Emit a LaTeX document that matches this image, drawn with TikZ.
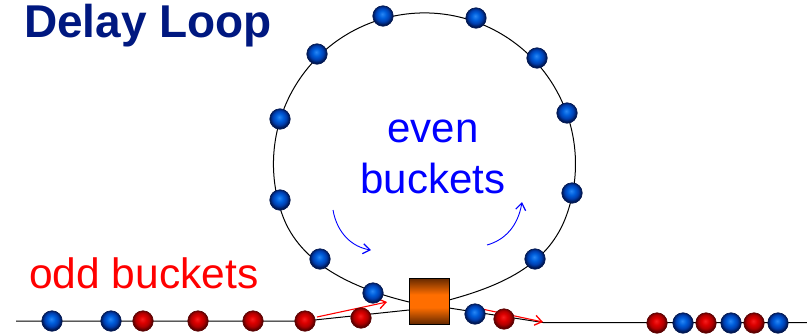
\documentclass[tikz,border=0pt]{standalone}
\usepackage{fontspec}
\setmainfont{Liberation Sans}
\usetikzlibrary{arrows.meta}
\definecolor{navy}{RGB}{0,24,128}
\definecolor{txtblue}{RGB}{0,0,255}
\definecolor{txtred}{RGB}{255,0,0}
\definecolor{bh}{RGB}{40,135,245}
\definecolor{bm}{RGB}{0,95,220}
\definecolor{bd}{RGB}{0,62,175}
\definecolor{brim}{RGB}{0,22,80}
\definecolor{rh}{RGB}{245,30,30}
\definecolor{rm}{RGB}{220,0,0}
\definecolor{rd}{RGB}{175,0,0}
\definecolor{rrim}{RGB}{90,0,0}
\definecolor{boxdark}{RGB}{100,40,0}
\definecolor{boxmid}{RGB}{255,110,0}
\pgfdeclareradialshading{blueball}{\pgfqpoint{-2bp}{5bp}}{%
  color(0bp)=(bh); color(9bp)=(bm); color(17bp)=(bd); color(24bp)=(brim); color(50bp)=(brim)}
\pgfdeclareradialshading{redball}{\pgfqpoint{-2bp}{5bp}}{%
  color(0bp)=(rh); color(9bp)=(rm); color(17bp)=(rd); color(24bp)=(rrim); color(50bp)=(rrim)}
\pgfdeclareverticalshading{boxshade}{100bp}{%
  color(0bp)=(boxdark); color(25bp)=(boxdark); color(43bp)=(boxmid); color(57bp)=(boxmid); color(75bp)=(boxdark); color(100bp)=(boxdark)}
\tikzset{
  bball/.style={circle, minimum size=20.5pt, inner sep=0pt, shading=blueball, draw=brim, line width=0.6pt},
  rball/.style={circle, minimum size=20.5pt, inner sep=0pt, shading=redball, draw=rrim, line width=0.6pt},
  track/.style={draw=black, line width=1pt},
  redarrow/.style={draw=txtred, line width=1.1pt, -{Straight Barb[length=7pt,width=10pt,line width=1.3pt]}},
  bluearrow/.style={draw=txtblue, line width=0.9pt, -{Straight Barb[length=7pt,width=10pt,line width=1.2pt]}},
  label/.style={inner sep=0pt, anchor=base, font=\fontsize{42}{51}\selectfont}
}
\begin{document}
\begin{tikzpicture}[x=1pt,y=-1pt]
\useasboundingbox (0,0) rectangle (807,335);
% title and labels
\node[label, anchor=base west, text=navy, font=\fontsize{46}{50}\selectfont\bfseries] (title) at (24,37) {Delay Loop};
\node[label, text=txtblue] (even) at (433,142) {even};
\node[label, text=txtblue] (buck) at (433,193) {buckets};
\node[label, anchor=base west, text=txtred, font=\fontsize{42.5}{51}\selectfont] (odd) at (29,288) {odd buckets};
% coordinates
\coordinate (lstart) at (16,321);
\coordinate (lend) at (305,321);
\coordinate (boxinL) at (409,310);
\coordinate (boxoutR) at (449,308);
\coordinate (rjoin) at (543,322.5);
\coordinate (rend) at (807,322.5);
\coordinate (loopL) at (409,302);
\coordinate (loopR) at (449,300);
% tracks
\draw[track] (lstart) -- (lend) -- (boxinL);
\draw[track] (boxoutR) -- (rjoin) -- (rend);
\draw[track] (loopL) .. controls (351,288) and (300,263) .. (282.6,215.6)
   arc[start angle=160, end angle=380, radius=151]
   .. controls (549.3,262.6) and (506.6,284.4) .. (loopR);
% box
\node[draw=black, line width=1pt, minimum width=40pt, minimum height=46pt, inner sep=0pt,
  shading=boxshade] (kicker) at (429,301) {};
% arrows
\coordinate (ra1s) at (317,317);
\coordinate (ra1e) at (387,302);
\coordinate (ra2s) at (482,309);
\coordinate (ra2e) at (543,322);
\draw[redarrow] (ra1s) -- (ra1e);
\draw[redarrow] (ra2s) -- (ra2e);
\coordinate (ba1s) at (333,210);
\coordinate (ba1e) at (371,250);
\coordinate (ba2s) at (487,245);
\coordinate (ba2e) at (522,202);
\draw[bluearrow] (ba1s) .. controls (337,233) and (352,247) .. (ba1e);
\draw[bluearrow] (ba2s) .. controls (505,240) and (518,226) .. (ba2e);
% loop balls
\node[bball] (l1) at (383,16) {};
\node[bball] (l2) at (476,18) {};
\node[bball] (l3) at (317,54) {};
\node[bball] (l4) at (537,58) {};
\node[bball] (l5) at (280,119) {};
\node[bball] (l6) at (567,113) {};
\node[bball] (l7) at (280,200) {};
\node[bball] (l8) at (572,193) {};
\node[bball] (l9) at (320,259) {};
\node[bball] (l10) at (535,259) {};
\node[bball] (l11) at (373,293) {};
% line balls left
\node[bball] (a1) at (52,321) {};
\node[bball] (a2) at (111,321) {};
\node[rball] (a3) at (143,321) {};
\node[rball] (a4) at (198,321) {};
\node[rball] (a5) at (253,321) {};
\node[rball] (a6) at (305,321) {};
\node[rball] (a7) at (361,318) {};
% after box
\node[bball] (b1) at (475,314) {};
\node[rball] (b2) at (504,319) {};
% right cluster
\node[rball] (c1) at (657,323) {};
\node[bball] (c2) at (683,323) {};
\node[rball] (c3) at (706,323) {};
\node[bball] (c4) at (731,323) {};
\node[rball] (c5) at (754,323) {};
\node[bball] (c6) at (778,323) {};
\end{tikzpicture}
\end{document}
